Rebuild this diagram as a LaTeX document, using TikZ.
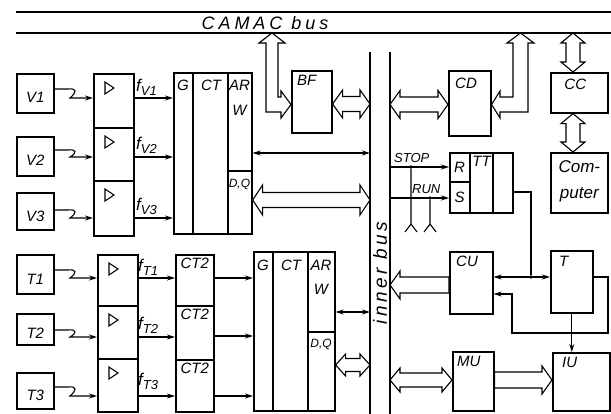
\documentclass[tikz,border=0pt]{standalone}
\usepackage{fontspec}
\setmainfont{Liberation Sans}
\usetikzlibrary{arrows.meta,calc}
\newcommand{\fsz}[1]{\fontsize{#1}{#1}\selectfont\itshape}
\newcommand{\bx}[5]{\node[box,minimum width=#4pt,minimum height=#5pt] (#1) at (#2,#3) {};}
\newcommand{\tri}[1]{\draw[wire] ($(#1.north west)+(12,9)$) -- ++(0,12) -- ++(9,-6) -- cycle;}
\newcommand{\flab}[3]{\node[anchor=south west,inner sep=0pt] at (#1,#2) {{\fsz{17}f}\raisebox{-4pt}{\fsz{13}#3}};}
\newcommand{\sq}[4]{\draw[arr] (#1.east |- 0,#3) -- (68,#3) .. controls (77,#3-1) and (77,#3+3) .. (70,#4) -- (#2.west |- 0,#4);}
% hollow arrows
\newcommand{\hollowLR}[5]{\draw[hollow] let \p1=(#1), \p2=(#2) in
  (\x1,-#3pt) -- (\x1+10pt,-#3pt-#5pt) -- (\x1+10pt,-#3pt-#4pt) -- (\x2-10pt,-#3pt-#4pt) -- (\x2-10pt,-#3pt-#5pt) -- (\x2,-#3pt) -- (\x2-10pt,-#3pt+#5pt) -- (\x2-10pt,-#3pt+#4pt) -- (\x1+10pt,-#3pt+#4pt) -- (\x1+10pt,-#3pt+#5pt) -- cycle;}
\newcommand{\hollowL}[5]{\draw[hollow] let \p1=(#1), \p2=(#2) in
  (\x1,-#3pt) -- (\x1+10pt,-#3pt-#5pt) -- (\x1+10pt,-#3pt-#4pt) -- (\x2,-#3pt-#4pt) -- (\x2,-#3pt+#4pt) -- (\x1+10pt,-#3pt+#4pt) -- (\x1+10pt,-#3pt+#5pt) -- cycle;}
\newcommand{\hollowR}[5]{\draw[hollow] let \p1=(#1), \p2=(#2) in
  (\x1,-#3pt-#4pt) -- (\x2-10pt,-#3pt-#4pt) -- (\x2-10pt,-#3pt-#5pt) -- (\x2,-#3pt) -- (\x2-10pt,-#3pt+#5pt) -- (\x2-10pt,-#3pt+#4pt) -- (\x1,-#3pt+#4pt) -- cycle;}
\newcommand{\hollowTB}[5]{\draw[hollow] let \p1=(#1), \p2=(#2) in
  (#3pt,\y1) -- (#3pt+#5pt,\y1-10pt) -- (#3pt+#4pt,\y1-10pt) -- (#3pt+#4pt,\y2+10pt) -- (#3pt+#5pt,\y2+10pt) -- (#3pt,\y2) -- (#3pt-#5pt,\y2+10pt) -- (#3pt-#4pt,\y2+10pt) -- (#3pt-#4pt,\y1-10pt) -- (#3pt-#5pt,\y1-10pt) -- cycle;}
\begin{document}
\begin{tikzpicture}[x=1pt,y=-1pt,
  box/.style={draw,line width=1.6pt,inner sep=0pt,anchor=north west},
  part/.style={line width=1.3pt},
  wire/.style={line width=1.1pt},
  arr/.style={wire,-{Stealth[length=8pt,width=5pt]}},
  darr/.style={wire,{Stealth[length=8pt,width=5pt]}-{Stealth[length=8pt,width=5pt]}},
  hollow/.style={line width=1.1pt,fill=white,line join=miter},
  bus/.style={line width=1.6pt},
  lbl/.style={inner sep=0pt,font=\fsz{15}},
  slbl/.style={inner sep=0pt,font=\fsz{13}},
  dot/.style={circle,fill,inner sep=0pt,minimum size=3.6pt}]
\useasboundingbox (0,0) rectangle (611,414);
% CAMAC bus
\coordinate (camacT) at (16,12);
\coordinate (camacTR) at (611,12);
\coordinate (camacB) at (16,33);
\coordinate (camacBR) at (611,33);
\draw[bus] (camacT) -- (camacTR);
\draw[bus] (camacB) -- (camacBR);
\node[inner sep=0pt,font={\fsz{18}\addfontfeatures{LetterSpace=22}}] (camaclbl) at (265,23) {CAMAC bus};
% inner bus
\coordinate (ibL) at (370,52);
\coordinate (ibLb) at (370,414);
\coordinate (ibR) at (390,52);
\coordinate (ibRb) at (390,414);
\draw[bus] (ibL) -- (ibLb);
\draw[bus] (ibR) -- (ibRb);
\node[inner sep=0pt,rotate=90,font={\fsz{19}\addfontfeatures{LetterSpace=18}}] (iblbl) at (380,273) {inner bus};
% sources
\bx{v1}{16}{73}{37}{39}
\bx{v2}{16}{136}{37}{39}
\bx{v3}{16}{192}{37}{37}
\bx{t1}{16}{254}{37}{39}
\bx{t2}{16}{313}{37}{31}
\bx{t3}{16}{372}{37}{36}
\node[lbl] at ($(v1.center)+(0,4)$) {V1};
\node[lbl] at ($(v2.center)+(0,4)$) {V2};
\node[lbl] at ($(v3.center)+(0,5)$) {V3};
\node[lbl] at ($(t1.center)+(0,5)$) {T1};
\node[lbl] at ($(t2.center)+(0,4)$) {T2};
\node[lbl] at ($(t3.center)+(0,5)$) {T3};
% amplifiers
\bx{a1}{93}{73}{40}{54}
\bx{a2}{93}{127}{40}{53}
\bx{a3}{93}{180}{40}{55}
\bx{b1}{97}{254}{40}{51}
\bx{b2}{97}{305}{40}{53}
\bx{b3}{97}{358}{40}{53}
\tri{a1}\tri{a2}\tri{a3}\tri{b1}\tri{b2}\tri{b3}
% CT2 counters
\bx{c1}{175}{254}{38}{51}
\bx{c2}{175}{305}{38}{54}
\bx{c3}{175}{359}{38}{52}
\node[lbl,anchor=north] at ($(c1.north)+(0,4)$) {CT2};
\node[lbl,anchor=north] at ($(c2.north)+(0,4)$) {CT2};
\node[lbl,anchor=north] at ($(c3.north)+(0,4)$) {CT2};
% register block 1
\bx{blk1}{173}{72}{78}{161}
\draw[part] (193,72) -- (193,233);
\draw[part] (228,72) -- (228,233);
\draw[part] (228,171) -- (251,171);
\node[lbl] at (183,85) {G};
\node[lbl] at (211,85) {CT};
\node[lbl] at (239.5,85) {AR};
\node[lbl] at (239.5,110) {W};
\node[inner sep=0pt,font=\fsz{12}] at (239.5,184) {D,Q};
% register block 2
\bx{blk2}{253}{251}{81}{159}
\draw[part] (273,251) -- (273,410);
\draw[part] (308,251) -- (308,410);
\draw[part] (308,332) -- (334,332);
\node[lbl] at (263,265) {G};
\node[lbl] at (291,265) {CT};
\node[lbl] at (321,265) {AR};
\node[lbl] at (321,289) {W};
\node[inner sep=0pt,font=\fsz{12}] at (321,344) {D,Q};
% other blocks
\bx{bf}{291}{70}{40}{62}
\node[lbl,anchor=north west] at ($(bf.north west)+(6,5)$) {BF};
\bx{cd}{448}{70}{42}{65}
\node[lbl,anchor=north west] at ($(cd.north west)+(7,8)$) {CD};
\bx{cc}{550}{72}{57}{40}
\node[lbl,anchor=north] at ($(cc.north)+(-4,7)$) {CC};
\bx{comp}{550}{152}{57}{60}
\node[inner sep=0pt,align=center,font={\fontsize{17}{26}\selectfont\itshape}] at ($(comp.center)+(0,-1)$) {Com-\\puter};
\bx{rs}{449}{152}{63}{60}
\draw[part] (470,152) -- (470,212);
\draw[part] (493,152) -- (493,212);
\draw[part] (449,182) -- (470,182);
\node[lbl] at (459.5,167) {R};
\node[lbl] at (459.5,197) {S};
\node[lbl,anchor=north] at (481.5,156) {TT};
\bx{cu}{449}{251}{43}{62}
\node[lbl,anchor=north west] at ($(cu.north west)+(7,5)$) {CU};
\bx{tb}{550}{250}{42}{62}
\node[lbl,anchor=north west] at ($(tb.north west)+(9,6)$) {T};
\bx{mu}{452}{351}{41}{59}
\node[lbl,anchor=north west] at ($(mu.north west)+(5,5)$) {MU};
\bx{iu}{552}{352}{57}{58}
\node[lbl,anchor=north west] at ($(iu.north west)+(10,5)$) {IU};
% inputs to amplifiers
\sq{v1}{a1}{89}{98}
\sq{v2}{a2}{150}{157}
\sq{v3}{a3}{210}{218}
\sq{t1}{b1}{270}{278}
\sq{t2}{b2}{330}{337}
\sq{t3}{b3}{387}{396}
% amplifier outputs
\draw[arr] (a1.east |- 0,98) -- (blk1.west |- 0,98);
\draw[arr] (a2.east |- 0,157) -- (blk1.west |- 0,157);
\draw[arr] (a3.east |- 0,218) -- (blk1.west |- 0,218);
\flab{136}{96}{V1}
\flab{136}{154}{V2}
\flab{136}{215}{V3}
\draw[arr] (b1.east |- 0,278) -- (c1.west |- 0,278);
\draw[arr] (b2.east |- 0,337) -- (c2.west |- 0,337);
\draw[arr] (b3.east |- 0,396) -- (c3.west |- 0,396);
\flab{138}{276}{T1}
\flab{138}{334}{T2}
\flab{138}{390}{T3}
\draw[arr] (c1.east |- 0,278) -- (blk2.west |- 0,278);
\draw[arr] (c2.east |- 0,336) -- (blk2.west |- 0,336);
\draw[arr] (c3.east |- 0,396) -- (blk2.west |- 0,396);
% blocks to inner bus
\draw[darr] (blk1.east |- 0,153) -- (ibL |- 0,153);
\draw[darr] (blk2.east |- 0,312) -- (ibL |- 0,312);
\hollowLR{blk1.east}{ibL}{200}{7.5}{15}
\hollowLR{blk2.east}{ibL}{365}{6.5}{11}
\hollowLR{bf.east}{ibL}{104}{7.5}{14}
\hollowLR{ibR}{cd.west}{104.5}{7.5}{14}
\hollowL{ibR}{cu.west}{285}{8}{14}
\hollowLR{ibR}{mu.west}{380}{7}{12}
\hollowR{mu.east}{iu.west}{380}{8}{14}
% CAMAC <-> BF
\draw[hollow] (272,33) -- (285,43) -- (278,43) -- (278,97) -- (281,97) -- (281,91) -- (bf.west |- 0,104.5) -- (281,118) -- (281,112) -- (266,112) -- (266,43) -- (259,43) -- cycle;
% CAMAC <-> CD
\draw[hollow] (520.5,33) -- (534,43) -- (528,43) -- (528,112) -- (500,112) -- (500,118) -- (cd.east |- 0,104.5) -- (500,91) -- (500,97) -- (513,97) -- (513,43) -- (507,43) -- cycle;
% CAMAC <-> CC <-> Computer
\hollowTB{camacB}{cc.north}{573}{7}{12}
\hollowTB{cc.south}{comp.north}{573}{7}{12}
% STOP / RUN
\draw[arr] (ibR |- 0,167) -- (rs.west |- 0,167);
\draw[arr] (ibR |- 0,198) -- (rs.west |- 0,198);
\node[slbl,anchor=south west] at (394,163) {STOP};
\node[slbl,anchor=south west] at (412,194) {RUN};
\node[dot] (sd) at (411,167) {};
\node[dot] (rd) at (430,198) {};
\coordinate (sf) at (411,224);
\coordinate (rf) at (430,224);
\draw[wire] (sd) -- (sf) -- ++(-6,8) (sf) -- ++(6,8);
\draw[wire] (rd) -- (rf) -- ++(-6,8) (rf) -- ++(6,8);
% TT -> CU / T
\node[dot] (jd) at (531,277) {};
\draw[wire] (rs.east |- 0,192) -- (531,192) -- (jd);
\draw[darr] (cu.east |- 0,277) -- (tb.west |- 0,277);
\draw[arr] (tb.east |- 0,277) -- (608,277) -- (608,333) -- (512,333) -- (512,294) -- (cu.east |- 0,294);
\draw[arr] (tb.south) -- (tb.south |- iu.north);
\end{tikzpicture}
\end{document}
